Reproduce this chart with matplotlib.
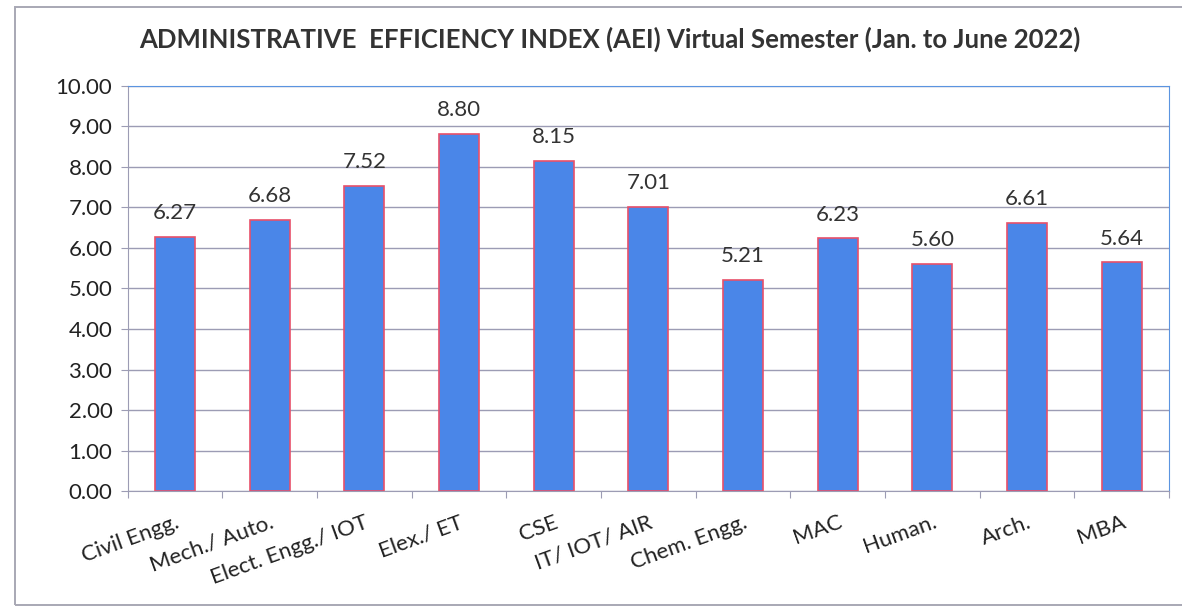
import numpy as np
import matplotlib.pyplot as plt
from matplotlib.patches import Rectangle

plt.rcParams['font.family'] = ['Lato', 'DejaVu Sans']

# data
depts = ['Civil Engg.', 'Mech./ Auto.', 'Elect. Engg./ IOT', 'Elex./ ET', 'CSE',
         'IT/ IOT/ AIR', 'Chem. Engg.', 'MAC', 'Human.', 'Arch.', 'MBA']
aei = [6.27, 6.68, 7.52, 8.80, 8.15, 7.01, 5.21, 6.23, 5.60, 6.61, 5.64]
yticks = np.arange(0, 10.01, 1.0)

fig = plt.figure(figsize=(11.82, 6.11), dpi=100)
ax = fig.add_axes([0.108, 0.196, 0.881, 0.664])

# outer frame of the chart (right side runs off the scan)
fig.patches.append(Rectangle((0.013, 0.01), 1.0, 0.978, transform=fig.transFigure,
                             fill=False, edgecolor='#a8a8b4', linewidth=1.4))

x = np.arange(len(depts))
ax.bar(x, aei, width=0.42, color='#4a86e8', edgecolor='#e8506a', linewidth=1.2, zorder=3)

for xi, v in zip(x, aei):
    ax.annotate('%.2f' % v, (xi, v), xytext=(0, 10), textcoords='offset points',
                ha='center', va='bottom', fontsize=16, color='#333333')

ax.set_xlim(-0.5, len(depts) - 0.5)
ax.set_ylim(0, 10)
ax.set_yticks(yticks)
ax.set_yticklabels(['%.2f' % t for t in yticks], fontsize=16, color='#222222')
ax.grid(axis='y', color='#9c9cb4', linewidth=1.0, zorder=0)

# ticks at category boundaries, labels at centres
ax.set_xticks(np.arange(len(depts) + 1) - 0.5)
ax.set_xticklabels([])
ax.set_xticks(x, minor=True)
ax.set_xticklabels(depts, minor=True, rotation=20, ha='right', va='top',
                   rotation_mode='anchor', fontsize=16, color='#222222')
ax.tick_params(axis='x', which='minor', length=0, pad=15)
ax.tick_params(axis='x', which='major', length=5, color='#9c9cb4')
ax.tick_params(axis='y', length=5, color='#9c9cb4', pad=6)

ax.spines['left'].set_color('#9c9cb4')
ax.spines['bottom'].set_color('#9c9cb4')
ax.spines['top'].set_color('#5b94e0')
ax.spines['right'].set_color('#5b94e0')

fig.text(0.516, 0.935, 'ADMINISTRATIVE  EFFICIENCY INDEX (AEI) Virtual Semester (Jan. to June 2022)',
         ha='center', va='center', fontsize=18.5, fontweight='bold', color='#333333')

fig.savefig('out.png', dpi=100)
